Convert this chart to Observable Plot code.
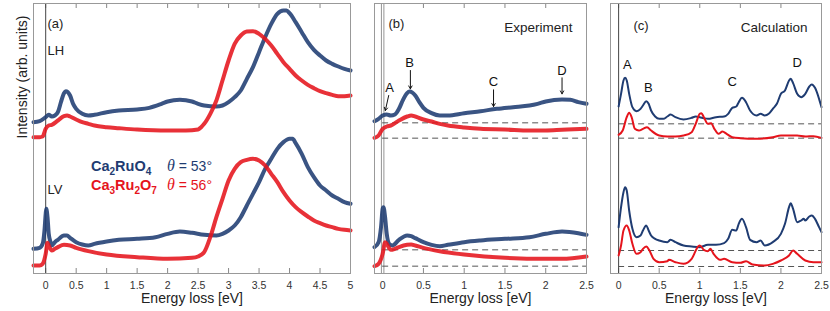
<!DOCTYPE html>
<html>
<head>
<meta charset="utf-8">
<script src="https://cdn.jsdelivr.net/npm/d3@7"></script>
<script src="https://cdn.jsdelivr.net/npm/@observablehq/plot@0.6"></script>
<style>
  body { margin: 0; background: white; }
  #wrap { position: relative; width: 830px; height: 311px; display: flex; font-family: "Liberation Sans", Arial, sans-serif; }
  #overlay { position: absolute; left: 0; top: 0; pointer-events: none; }
</style>
</head>
<body>
<div id="wrap"></div>
<script>
// ---------- data (energy loss [eV], intensity [arb. units]) ----------
// Panel (a): experiment, wide range
const aLHblue = [[-0.2,455],[-0.1,458],[0,470],[0.05,477],[0.1,472],[0.15,475],[0.2,485],[0.25,515],[0.3,542],[0.33,548],[0.4,535],[0.45,510],[0.5,495],[0.6,480],[0.7,475],[0.8,477],[1.0,485],[1.2,490],[1.5,493],[1.7,498],[1.9,510],[2.0,517],[2.2,522],[2.4,517],[2.5,510],[2.6,505],[2.8,502],[2.9,505],[3.0,515],[3.1,530],[3.2,550],[3.3,585],[3.4,620],[3.5,665],[3.6,710],[3.7,750],[3.8,780],[3.9,790],[3.95,790],[4.0,782],[4.1,755],[4.2,725],[4.3,695],[4.4,672],[4.5,655],[4.6,640],[4.7,630],[4.8,622],[4.9,615],[5.0,610]];
const aLHred = [[-0.2,410],[-0.1,410],[-0.05,412],[0,435],[0.05,445],[0.1,447],[0.2,460],[0.3,473],[0.35,475],[0.4,472],[0.5,463],[0.6,455],[0.7,450],[0.8,445],[1.0,440],[1.2,437],[1.5,433],[2.0,430],[2.3,430],[2.5,433],[2.55,440],[2.6,450],[2.7,480],[2.8,520],[2.9,580],[3.0,640],[3.1,690],[3.2,715],[3.3,727],[3.4,728],[3.5,720],[3.6,705],[3.7,685],[3.8,660],[3.9,635],[4.0,615],[4.1,595],[4.2,580],[4.3,567],[4.4,557],[4.5,548],[4.6,542],[4.7,537],[4.8,533],[4.9,533],[5.0,535]];
const aLVblue = [[-0.2,75],[-0.1,78],[-0.05,90],[-0.02,130],[0,180],[0.01,195],[0.03,170],[0.05,120],[0.08,95],[0.1,85],[0.15,95],[0.2,102],[0.3,115],[0.35,115],[0.4,108],[0.5,95],[0.6,88],[0.7,85],[0.8,90],[1.0,97],[1.2,102],[1.5,105],[1.8,110],[2.0,120],[2.2,127],[2.4,123],[2.6,117],[2.8,115],[2.9,120],[3.0,130],[3.1,145],[3.2,170],[3.3,205],[3.4,240],[3.5,275],[3.6,315],[3.7,345],[3.8,375],[3.9,395],[4.0,405],[4.05,405],[4.1,392],[4.2,360],[4.3,320],[4.4,290],[4.5,265],[4.6,250],[4.7,235],[4.8,225],[4.9,215],[5.0,210]];
const aLVred = [[-0.2,25],[-0.1,25],[-0.05,30],[0,60],[0.03,93],[0.05,85],[0.1,70],[0.15,75],[0.2,80],[0.3,87],[0.4,85],[0.5,78],[0.7,68],[1.0,58],[1.5,50],[2.0,45],[2.4,48],[2.5,52],[2.6,65],[2.7,110],[2.8,170],[2.9,225],[3.0,280],[3.1,315],[3.2,335],[3.3,342],[3.4,345],[3.5,340],[3.6,325],[3.7,300],[3.8,275],[3.9,245],[4.0,220],[4.1,200],[4.2,185],[4.3,172],[4.4,160],[4.5,152],[4.6,145],[4.7,140],[4.8,135],[4.9,132],[5.0,130]];

// Panel (b): experiment, low-energy range
const bLHblue = [[-0.1,458],[-0.05,465],[0,475],[0.05,478],[0.1,475],[0.15,478],[0.2,495],[0.25,522],[0.3,542],[0.33,547],[0.4,535],[0.45,515],[0.5,498],[0.6,482],[0.7,475],[0.8,475],[1.0,482],[1.2,488],[1.4,495],[1.6,500],[1.8,505],[1.9,510],[2.0,517],[2.2,523],[2.3,522],[2.4,515],[2.5,510]];
const bLHred = [[-0.1,408],[-0.05,415],[0,435],[0.05,442],[0.1,445],[0.2,460],[0.3,472],[0.35,475],[0.4,472],[0.5,463],[0.6,457],[0.7,450],[0.8,445],[1.0,439],[1.2,435],[1.5,433],[1.8,430],[2.0,430],[2.2,432],[2.5,435]];
const bLVblue = [[-0.1,80],[-0.05,95],[-0.02,140],[0,195],[0.01,200],[0.03,170],[0.05,120],[0.08,90],[0.12,85],[0.2,102],[0.3,115],[0.35,113],[0.4,107],[0.5,95],[0.6,87],[0.7,83],[0.8,87],[1.0,95],[1.2,100],[1.5,105],[1.8,110],[2.0,120],[2.2,127],[2.4,122],[2.5,117]];
const bLVred = [[-0.1,23],[-0.05,30],[0,60],[0.03,95],[0.05,90],[0.1,72],[0.15,75],[0.2,80],[0.3,87],[0.35,88],[0.4,85],[0.5,78],[0.7,68],[1.0,58],[1.5,48],[2.0,45],[2.2,45],[2.5,52]];
const bBaselines = [453, 407, 72, 23];

// Panel (c): calculation
const cLHblue = [[0,502],[0.03,540],[0.06,580],[0.08,588],[0.1,580],[0.13,540],[0.17,500],[0.22,488],[0.27,495],[0.3,505],[0.34,518],[0.37,510],[0.4,490],[0.45,472],[0.5,465],[0.55,465],[0.6,472],[0.64,478],[0.7,470],[0.8,463],[0.9,468],[0.95,472],[1.0,470],[1.05,467],[1.1,465],[1.2,470],[1.3,472],[1.35,480],[1.4,498],[1.45,502],[1.48,515],[1.52,528],[1.57,515],[1.62,490],[1.7,475],[1.75,480],[1.8,475],[1.85,480],[1.9,495],[1.95,510],[2.0,540],[2.05,550],[2.1,580],[2.12,585],[2.15,572],[2.2,540],[2.25,530],[2.3,540],[2.35,562],[2.38,568],[2.42,558],[2.47,525],[2.5,500]];
const cLHred = [[0,417],[0.05,430],[0.1,470],[0.13,483],[0.16,470],[0.2,435],[0.25,430],[0.3,435],[0.35,440],[0.4,430],[0.5,415],[0.6,412],[0.7,412],[0.8,415],[0.9,425],[0.95,450],[1.0,480],[1.02,482],[1.05,470],[1.1,450],[1.14,452],[1.18,435],[1.23,420],[1.28,427],[1.33,420],[1.4,410],[1.5,407],[1.7,405],[1.9,410],[2.0,415],[2.1,415],[2.2,415],[2.3,412],[2.4,413],[2.5,408]];
const cLVblue = [[0,140],[0.03,200],[0.06,245],[0.08,260],[0.1,250],[0.13,190],[0.17,135],[0.22,110],[0.27,115],[0.3,130],[0.34,145],[0.37,130],[0.4,115],[0.45,105],[0.5,100],[0.6,95],[0.64,102],[0.7,95],[0.8,85],[0.9,82],[1.0,80],[1.1,87],[1.2,87],[1.3,92],[1.35,105],[1.4,132],[1.45,130],[1.48,150],[1.52,165],[1.57,140],[1.62,102],[1.7,95],[1.75,100],[1.8,85],[1.9,95],[2.0,120],[2.05,150],[2.1,200],[2.12,212],[2.15,195],[2.2,155],[2.25,160],[2.28,165],[2.3,160],[2.35,172],[2.38,175],[2.42,165],[2.47,140],[2.5,125]];
const cLVred = [[0,55],[0.03,85],[0.06,130],[0.1,145],[0.13,130],[0.17,90],[0.22,60],[0.27,65],[0.3,75],[0.34,82],[0.38,70],[0.43,45],[0.5,35],[0.6,38],[0.62,42],[0.7,35],[0.8,30],[0.9,45],[0.98,82],[1.0,85],[1.05,72],[1.1,68],[1.13,75],[1.17,60],[1.25,42],[1.3,45],[1.4,35],[1.5,33],[1.57,38],[1.65,28],[1.8,25],[1.9,30],[2.0,40],[2.1,55],[2.15,70],[2.2,60],[2.3,40],[2.4,35],[2.5,35]];
const cBaselines = [450, 407, 70, 22];

// tick values
const ticksA = [0, 0.5, 1, 1.5, 2, 2.5, 3, 3.5, 4, 4.5, 5];
const ticksB = [0, 0.5, 1, 1.5, 2, 2.5];

// peak annotations
const bPeaks = [
  {label: "A", tx: 0.086, ty: 558, x1: 0.074, y1: 535, x2: 0.033, y2: 490},
  {label: "B", tx: 0.33, ty: 632, x1: 0.34, y1: 610, x2: 0.34, y2: 555},
  {label: "C", tx: 1.36, ty: 575, x1: 1.36, y1: 552, x2: 1.36, y2: 502},
  {label: "D", tx: 2.2, ty: 610, x1: 2.2, y1: 588, x2: 2.2, y2: 540}
];
const cPeaks = [
  {label: "A", tx: 0.107, ty: 628},
  {label: "B", tx: 0.366, ty: 558},
  {label: "C", tx: 1.40, ty: 577},
  {label: "D", tx: 2.2, ty: 633}
];

// ---------- drawing ----------
const BLUE = "#1f3c72", RED = "#e5141c";
const YDOM = [1, 811];
const FONT = "'Liberation Sans', Arial, sans-serif";
const X = d => d[0], Y = d => d[1];

function expLine(data, color) {
  return Plot.line(data, {x: X, y: Y, stroke: color, strokeWidth: 4, strokeOpacity: 0.88, curve: "monotone-x"});
}
function calcLine(data, color) {
  return Plot.line(data, {x: X, y: Y, stroke: color, strokeWidth: 2, curve: "monotone-x"});
}

function panel(o) {
  const marks = [
    Plot.ruleX(o.ticks, {y1: YDOM[0], y2: YDOM[0] + 15, stroke: "#888"}),
    Plot.ruleX(o.ticks, {y1: YDOM[1] - 15, y2: YDOM[1], stroke: "#888"}),
    ...o.marks,
    Plot.frame({stroke: "#999"}),
    Plot.axisX({ticks: o.ticks, tickSize: 0, tickPadding: 8, fontSize: 10.5, color: "#333", label: null, tickFormat: d => `${d}`}),
    Plot.text(["Energy loss [eV]"], {frameAnchor: "bottom", dy: 29, fontSize: 14, fill: "#222"})
  ];
  return Plot.plot({
    width: o.width, height: 311,
    marginTop: 3, marginBottom: 38, marginLeft: o.ml, marginRight: o.mr,
    x: {domain: o.xdom},
    y: {domain: YDOM, axis: null},
    style: {fontFamily: FONT, background: "white", overflow: "visible"},
    marks
  });
}

const wrap = document.getElementById("wrap");

// (a)
wrap.appendChild(panel({
  width: 360, ml: 33, mr: 10, xdom: [-0.2, 5], ticks: ticksA,
  marks: [
    Plot.ruleX([0], {stroke: "#444", strokeWidth: 1}),
    expLine(aLHblue, BLUE), expLine(aLHred, RED),
    expLine(aLVblue, BLUE), expLine(aLVred, RED),
    Plot.text(["(a)"], {frameAnchor: "top-left", dx: 14, dy: 15, fontSize: 13, textAnchor: "start", fill: "#222"}),
    Plot.text(["LH"], {frameAnchor: "top-left", dx: 14, dy: 42, fontSize: 13, textAnchor: "start", fill: "#222"}),
    Plot.text(["LV"], {frameAnchor: "top-left", dx: 14, dy: 181, fontSize: 13, textAnchor: "start", fill: "#222"}),
    Plot.text(["Intensity (arb. units)"], {frameAnchor: "left", dx: -11, rotate: -90, fontSize: 14, fill: "#222"})
  ]
}));

// (b)
wrap.appendChild(panel({
  width: 240, ml: 14, mr: 14, xdom: [-0.1, 2.5], ticks: ticksB,
  marks: [
    Plot.ruleX([0], {stroke: "#999", strokeWidth: 3.5}),
    Plot.ruleX([0], {stroke: "white", strokeWidth: 1.4}),
    Plot.ruleY(bBaselines, {x1: 0, x2: 2.5, stroke: "#555", strokeDasharray: "6,4"}),
    expLine(bLHblue, BLUE), expLine(bLHred, RED),
    expLine(bLVblue, BLUE), expLine(bLVred, RED),
    Plot.arrow(bPeaks, {x1: "x1", y1: "y1", x2: "x2", y2: "y2", stroke: "#111", strokeWidth: 1, headLength: 5}),
    Plot.text(bPeaks, {x: "tx", y: "ty", text: "label", fontSize: 13, fill: "#111"}),
    Plot.text(["(b)"], {frameAnchor: "top-left", dx: 14, dy: 15, fontSize: 13, textAnchor: "start", fill: "#222"}),
    Plot.text(["Experiment"], {frameAnchor: "top-right", dx: -14, dy: 19, fontSize: 13.5, textAnchor: "end", fill: "#222"})
  ]
}));

// (c)
wrap.appendChild(panel({
  width: 230, ml: 10, mr: 9, xdom: [-0.1, 2.5], ticks: ticksB,
  marks: [
    Plot.ruleX([0], {stroke: "#444", strokeWidth: 1}),
    Plot.ruleY(cBaselines, {x1: 0, x2: 2.5, stroke: "#555", strokeDasharray: "6,4"}),
    calcLine(cLHblue, BLUE), calcLine(cLHred, RED),
    calcLine(cLVblue, BLUE), calcLine(cLVred, RED),
    Plot.text(cPeaks, {x: "tx", y: "ty", text: "label", fontSize: 13, fill: "#111"}),
    Plot.text(["(c)"], {frameAnchor: "top-left", dx: 23, dy: 17, fontSize: 13, textAnchor: "start", fill: "#222"}),
    Plot.text(["Calculation"], {frameAnchor: "top-right", dx: -14, dy: 19, fontSize: 13.5, textAnchor: "end", fill: "#222"})
  ]
}));

// legend (with true subscripts)
const legend = [
  {parts: [["Ca",0],["2",1],["RuO",0],["4",1]], theta: "53°", color: BLUE, y: 171},
  {parts: [["Ca",0],["3",1],["Ru",0],["2",1],["O",0],["7",1]], theta: "56°", color: RED, y: 189.5}
];
const ov = d3.select(wrap).append("svg").attr("id", "overlay").attr("width", 830).attr("height", 311)
  .style("font-family", FONT);
for (const row of legend) {
  const t = ov.append("text").attr("x", 91).attr("y", row.y).attr("fill", row.color)
    .attr("font-weight", "bold").attr("font-size", 14.5);
  let sub = 0;
  for (const [s, isSub] of row.parts) {
    const dy = (isSub ? 4 : 0) - sub;
    t.append("tspan").attr("dy", dy).attr("font-size", isSub ? 10 : 14.5).text(s);
    sub = isSub ? 4 : 0;
  }
  const th = ov.append("text").attr("x", 167).attr("y", row.y).attr("fill", row.color).attr("font-size", 14);
  th.append("tspan").attr("font-family", "'Liberation Serif', serif").attr("font-style", "italic").attr("font-size", 16).text("θ");
  th.append("tspan").text(" = " + row.theta);
}
</script>
</body>
</html>
